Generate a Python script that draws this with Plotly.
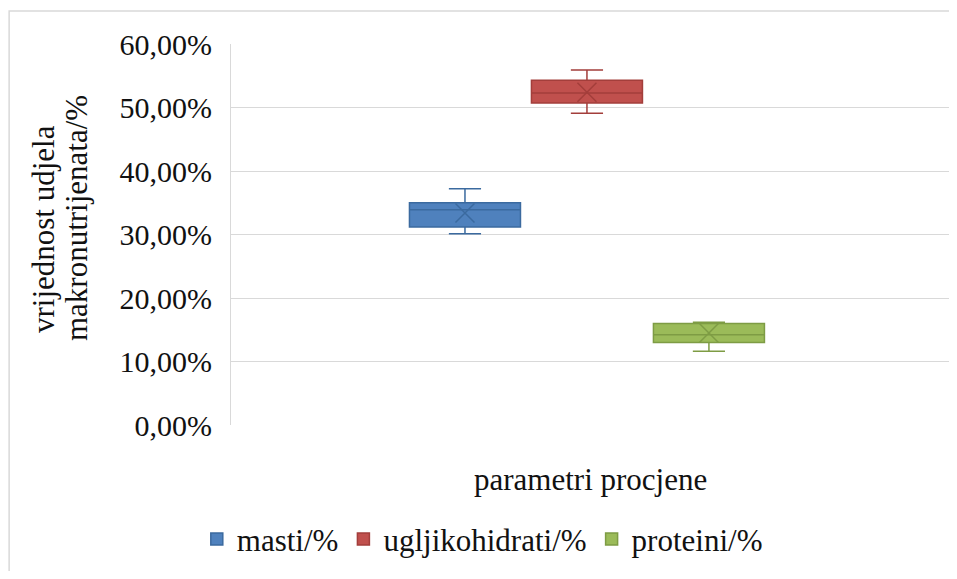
import plotly.graph_objects as go

# box statistics (fractions, shown as %)
series = ["masti/%", "ugljikohidrati/%", "proteini/%"]
lower = [0.301, 0.491, 0.116]
q1 = [0.312, 0.507, 0.130]
median = [0.339, 0.523, 0.142]
q3 = [0.350, 0.543, 0.160]
upper = [0.372, 0.559, 0.162]
mean = [0.334, 0.524, 0.145]

fills = ["#4F81BD", "#C0504D", "#9BBB59"]
edges = ["#3B6A9F", "#A33E3B", "#7E9C44"]

font = "Liberation Serif"
txt = "#111111"

fig = go.Figure()

for i, name in enumerate(series):
    fig.add_trace(go.Box(
        name=name, x=[i],
        lowerfence=[lower[i]], q1=[q1[i]], median=[median[i]],
        q3=[q3[i]], upperfence=[upper[i]],
        width=0.91, whiskerwidth=0.29,
        fillcolor=fills[i], line=dict(color=edges[i], width=1.5),
        boxpoints=False, hoverinfo="skip",
    ))
    fig.add_trace(go.Scatter(
        x=[i], y=[mean[i]], mode="markers", showlegend=False,
        marker=dict(symbol="x-thin", size=19, line=dict(color=edges[i], width=1.5)),
        hoverinfo="skip",
    ))

# page has an 8px body margin, so the figure is sized to fit inside the window
fig.update_layout(
    width=941, height=563,
    margin=dict(l=223, r=0, t=36, b=146),
    paper_bgcolor="white", plot_bgcolor="white",
    separators=", ",
    font=dict(family=font, size=30, color=txt),
    showlegend=True,
    legend=dict(orientation="h", x=0.35, xanchor="center", y=-0.30, yanchor="middle",
                font=dict(family=font, size=31, color=txt),
                itemwidth=30, traceorder="normal"),
    xaxis=dict(range=[-1.918, 3.968], showticklabels=False, showgrid=False,
               zeroline=False, showline=False),
    yaxis=dict(range=[0, 0.6], dtick=0.1, tickformat=".2%", showgrid=True,
               gridcolor="#D9D9D9", gridwidth=1.2, zeroline=False,
               showline=True, linecolor="#D9D9D9", linewidth=1.2,
               ticklabelstandoff=12, tickfont=dict(family=font, size=30, color=txt)),
    annotations=[
        dict(text="vrijednost udjela", textangle=-90,
             xref="paper", yref="paper", x=-0.262, y=0.514,
             xanchor="center", yanchor="middle", showarrow=False,
             font=dict(family=font, size=31, color=txt)),
        dict(text="makronutrijenata/%", textangle=-90,
             xref="paper", yref="paper", x=-0.216, y=0.543,
             xanchor="center", yanchor="middle", showarrow=False,
             font=dict(family=font, size=31, color=txt)),
        dict(text="parametri procjene", xref="paper", yref="paper",
             x=0.501, y=-0.144, yanchor="middle", showarrow=False,
             font=dict(family=font, size=31, color=txt)),
    ],
    # chart-area outline: only left and top edges are in view
    shapes=[
        dict(type="path", xref="paper", yref="paper",
             path="M -0.309,-0.7 L -0.309,1.0866 L 1.3,1.0866",
             line=dict(color="#D9D9D9", width=1.5)),
    ],
)

fig.write_html("out.html")
